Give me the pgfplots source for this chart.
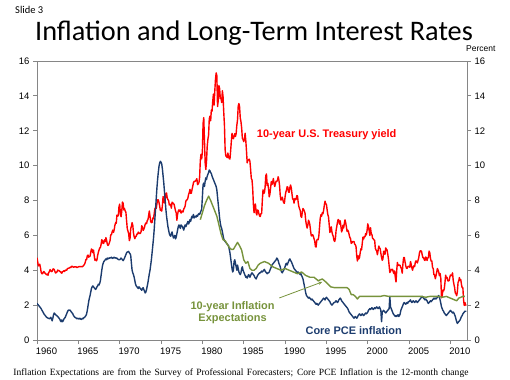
\documentclass[border=0pt]{standalone}
\usepackage{pgfplots}
\pgfplotsset{compat=1.18}
\usepackage{fontspec}
\setmainfont{Liberation Sans}
\newfontfamily\titlefont{Carlito}
\newfontfamily\notefont{Liberation Serif}
\usetikzlibrary{arrows.meta}
\definecolor{tyred}{RGB}{255,0,0}
\definecolor{pceblue}{RGB}{28,60,110}
\definecolor{expgreen}{RGB}{119,147,60}
\definecolor{axisgray}{RGB}{134,134,134}
\newcommand\tickfont{\fontsize{9.5}{11}\selectfont}
\begin{document}
\begin{tikzpicture}
\useasboundingbox (0,0) rectangle (510bp,380bp);
\begin{axis}[
  at={(37bp,40bp)}, anchor=south west, scale only axis,
  width=430bp, height=279bp,
  xmin=1960, xmax=2012, ymin=0, ymax=16,
  axis line style={draw=axisgray, line width=0.8bp},
  xtick={1960,1965,...,2010},
  xticklabels={1960,1965,1970,1975,1980,1985,1990,1995,2000,2005,2010},
  xticklabel style={xshift=9.5bp, font=\tickfont},
  ytick={0,2,...,16},
  yticklabel style={font=\tickfont},
  tick align=outside, major tick length=4bp,
  tick style={draw=axisgray, line width=0.8bp},
  xtick pos=left, ytick pos=left,
  /pgf/number format/assume math mode=true,
  line join=round,
]
% 10-year Treasury yield, monthly Jan 1960 - Dec 2011
\addplot[tyred, line width=1.4bp, mark=none] table[row sep=\\, header=false, x expr=1960+\coordindex/12, y index=0] {
4.72\\4.49\\4.25\\4.28\\4.35\\4.15\\3.90\\3.80\\3.80\\3.89\\3.93\\3.84\\
3.84\\3.78\\3.74\\3.78\\3.71\\3.88\\3.92\\4.04\\3.98\\3.92\\3.94\\4.06\\
4.08\\4.04\\3.93\\3.84\\3.87\\3.91\\4.01\\3.98\\3.98\\3.93\\3.92\\3.86\\
3.83\\3.92\\3.93\\3.97\\3.93\\3.99\\4.02\\4.00\\4.08\\4.11\\4.12\\4.13\\
4.17\\4.15\\4.22\\4.23\\4.20\\4.17\\4.19\\4.19\\4.20\\4.19\\4.15\\4.18\\
4.19\\4.21\\4.21\\4.20\\4.21\\4.21\\4.20\\4.25\\4.29\\4.35\\4.45\\4.62\\
4.61\\4.83\\4.87\\4.75\\4.78\\4.81\\5.02\\5.22\\5.18\\5.01\\5.16\\4.84\\
4.58\\4.63\\4.54\\4.59\\4.85\\5.02\\5.16\\5.28\\5.30\\5.48\\5.75\\5.70\\
5.53\\5.56\\5.74\\5.64\\5.87\\5.72\\5.50\\5.42\\5.46\\5.58\\5.70\\6.03\\
6.04\\6.19\\6.30\\6.17\\6.32\\6.57\\6.72\\6.69\\7.16\\7.10\\7.14\\7.65\\
7.79\\7.24\\7.07\\7.39\\7.91\\7.84\\7.46\\7.53\\7.39\\7.33\\6.84\\6.39\\
6.24\\6.11\\5.70\\5.83\\6.39\\6.52\\6.73\\6.58\\6.14\\5.93\\5.81\\5.93\\
5.95\\6.08\\6.07\\6.19\\6.13\\6.11\\6.11\\6.21\\6.55\\6.48\\6.28\\6.36\\
6.46\\6.64\\6.71\\6.67\\6.85\\6.90\\7.13\\7.40\\7.09\\6.79\\6.73\\6.74\\
6.99\\6.96\\7.21\\7.51\\7.58\\7.54\\7.81\\8.04\\8.04\\7.90\\7.68\\7.43\\
7.50\\7.39\\7.73\\8.23\\8.06\\7.86\\8.06\\8.40\\8.43\\8.14\\8.05\\8.00\\
7.74\\7.79\\7.73\\7.56\\7.90\\7.86\\7.83\\7.77\\7.59\\7.41\\7.29\\6.87\\
7.21\\7.39\\7.46\\7.37\\7.46\\7.28\\7.33\\7.40\\7.34\\7.52\\7.58\\7.69\\
7.96\\8.03\\8.04\\8.15\\8.35\\8.46\\8.64\\8.41\\8.42\\8.64\\8.81\\9.01\\
9.10\\9.10\\9.12\\9.18\\9.25\\8.91\\8.95\\9.03\\9.33\\10.30\\10.65\\10.39\\
10.80\\12.41\\12.75\\11.47\\10.18\\9.78\\10.25\\11.10\\11.51\\11.75\\12.68\\12.84\\
12.57\\13.19\\13.12\\13.68\\14.10\\13.47\\14.28\\14.94\\15.32\\15.15\\13.39\\13.72\\
14.59\\14.43\\13.86\\13.87\\13.62\\14.30\\13.95\\13.06\\12.34\\10.91\\10.55\\10.54\\
10.46\\10.72\\10.51\\10.40\\10.38\\10.85\\11.38\\11.85\\11.65\\11.54\\11.69\\11.83\\
11.67\\11.84\\12.32\\12.63\\13.41\\13.56\\13.36\\12.72\\12.52\\12.16\\11.57\\11.50\\
11.38\\11.51\\11.86\\11.43\\10.85\\10.16\\10.31\\10.33\\10.37\\10.24\\9.78\\9.26\\
9.19\\8.70\\7.78\\7.30\\7.71\\7.80\\7.30\\7.17\\7.45\\7.43\\7.25\\7.11\\
7.08\\7.25\\7.25\\8.02\\8.61\\8.40\\8.45\\8.76\\9.42\\9.52\\8.86\\8.99\\
8.67\\8.21\\8.37\\8.72\\9.09\\8.92\\9.06\\9.26\\8.98\\8.80\\8.96\\9.11\\
9.09\\9.17\\9.36\\9.18\\8.86\\8.28\\8.02\\8.11\\8.19\\8.01\\7.87\\7.84\\
8.21\\8.47\\8.59\\8.79\\8.76\\8.48\\8.47\\8.75\\8.89\\8.72\\8.39\\8.08\\
8.09\\7.85\\8.11\\8.04\\8.07\\8.28\\8.27\\7.90\\7.65\\7.53\\7.42\\7.09\\
7.03\\7.34\\7.54\\7.48\\7.39\\7.26\\6.84\\6.59\\6.42\\6.59\\6.87\\6.77\\
6.60\\6.26\\5.98\\5.97\\6.04\\5.96\\5.81\\5.68\\5.36\\5.33\\5.72\\5.77\\
5.75\\5.97\\6.48\\6.97\\7.18\\7.10\\7.30\\7.24\\7.46\\7.74\\7.96\\7.81\\
7.78\\7.47\\7.20\\7.06\\6.63\\6.17\\6.28\\6.49\\6.20\\6.04\\5.93\\5.71\\
5.65\\5.81\\6.27\\6.51\\6.74\\6.91\\6.87\\6.64\\6.83\\6.53\\6.20\\6.30\\
6.58\\6.42\\6.69\\6.89\\6.71\\6.49\\6.22\\6.30\\6.21\\6.03\\5.88\\5.81\\
5.54\\5.57\\5.65\\5.64\\5.65\\5.50\\5.46\\5.34\\4.81\\4.53\\4.83\\4.65\\
4.72\\5.00\\5.23\\5.18\\5.54\\5.90\\5.79\\5.94\\5.92\\6.11\\6.03\\6.28\\
6.66\\6.52\\6.26\\5.99\\6.44\\6.10\\6.05\\5.83\\5.80\\5.74\\5.72\\5.24\\
5.16\\5.10\\4.89\\5.14\\5.39\\5.28\\5.24\\4.97\\4.73\\4.57\\4.65\\5.09\\
5.04\\4.91\\5.28\\5.21\\5.16\\4.93\\4.65\\4.26\\3.87\\3.94\\4.05\\4.03\\
4.05\\3.90\\3.81\\3.96\\3.57\\3.33\\3.98\\4.45\\4.27\\4.29\\4.30\\4.27\\
4.15\\4.08\\3.83\\4.35\\4.72\\4.73\\4.50\\4.28\\4.13\\4.10\\4.19\\4.23\\
4.22\\4.17\\4.50\\4.34\\4.14\\4.00\\4.18\\4.26\\4.20\\4.46\\4.54\\4.47\\
4.42\\4.57\\4.72\\4.99\\5.11\\5.11\\5.09\\4.88\\4.72\\4.73\\4.60\\4.56\\
4.76\\4.72\\4.56\\4.69\\4.75\\5.10\\5.00\\4.67\\4.52\\4.53\\4.15\\4.10\\
3.74\\3.74\\3.51\\3.68\\3.88\\4.10\\4.01\\3.89\\3.69\\3.81\\3.53\\2.42\\
2.52\\2.87\\2.82\\2.93\\3.29\\3.72\\3.56\\3.59\\3.40\\3.39\\3.40\\3.59\\
3.73\\3.69\\3.73\\3.85\\3.42\\3.20\\3.01\\2.70\\2.65\\2.54\\2.76\\3.29\\
3.39\\3.58\\3.41\\3.46\\3.17\\3.00\\3.00\\2.30\\1.98\\2.15\\2.01\\1.98\\
};
% Core PCE inflation, 12-month change, monthly Jan 1960 - Dec 2011
\addplot[pceblue, line width=1.4bp, mark=none] table[row sep=\\, header=false, x expr=1960+\coordindex/12, y index=0] {
2.10\\2.05\\2.00\\1.95\\1.90\\1.85\\1.80\\1.72\\1.65\\1.58\\1.50\\1.45\\
1.40\\1.35\\1.30\\1.28\\1.25\\1.24\\1.22\\1.25\\1.30\\1.20\\1.10\\1.25\\
1.45\\1.55\\1.50\\1.45\\1.42\\1.38\\1.35\\1.30\\1.25\\1.20\\1.10\\1.05\\
1.15\\1.05\\1.10\\1.20\\1.25\\1.30\\1.40\\1.50\\1.60\\1.68\\1.72\\1.70\\
1.72\\1.65\\1.60\\1.55\\1.50\\1.40\\1.35\\1.30\\1.28\\1.25\\1.22\\1.25\\
1.22\\1.20\\1.25\\1.22\\1.18\\1.20\\1.25\\1.22\\1.28\\1.30\\1.35\\1.40\\
1.50\\1.70\\1.95\\2.20\\2.40\\2.55\\2.75\\2.95\\3.05\\3.10\\3.05\\3.00\\
2.95\\2.90\\2.95\\3.05\\3.10\\3.20\\3.15\\3.25\\3.40\\3.70\\4.00\\4.25\\
4.40\\4.50\\4.55\\4.60\\4.65\\4.60\\4.70\\4.65\\4.70\\4.68\\4.72\\4.70\\
4.75\\4.70\\4.68\\4.72\\4.75\\4.70\\4.72\\4.68\\4.70\\4.65\\4.62\\4.60\\
4.60\\4.65\\4.70\\4.65\\4.60\\4.55\\4.62\\4.70\\4.80\\4.90\\5.00\\5.05\\
5.05\\5.08\\5.00\\4.95\\4.85\\4.40\\4.00\\3.85\\3.75\\3.60\\3.40\\3.20\\
3.10\\3.05\\3.00\\2.95\\3.05\\3.00\\2.95\\2.90\\2.85\\2.95\\3.00\\2.90\\
2.80\\2.70\\2.75\\2.90\\3.10\\3.30\\3.55\\3.80\\4.00\\4.30\\4.60\\5.00\\
5.40\\5.80\\6.30\\6.90\\7.50\\8.10\\8.70\\9.20\\9.60\\9.95\\10.15\\10.25\\
10.20\\10.10\\9.80\\9.40\\9.00\\8.50\\8.00\\7.50\\7.10\\6.80\\6.50\\6.30\\
6.10\\6.00\\5.95\\6.10\\6.20\\6.00\\5.85\\5.90\\6.00\\5.80\\5.90\\6.10\\
6.30\\6.50\\6.60\\6.50\\6.40\\6.60\\6.55\\6.50\\6.40\\6.30\\6.50\\6.60\\
6.50\\6.60\\6.70\\6.80\\6.65\\6.75\\6.90\\6.80\\7.00\\7.10\\7.00\\7.20\\
7.00\\7.05\\7.10\\7.05\\7.15\\7.10\\7.20\\7.25\\7.20\\7.30\\7.40\\7.50\\
8.20\\8.90\\9.00\\8.80\\9.10\\9.30\\9.20\\9.40\\9.50\\9.60\\9.75\\9.70\\
9.60\\9.55\\9.40\\9.30\\9.20\\9.10\\9.00\\8.90\\8.80\\8.60\\8.20\\7.80\\
7.40\\7.00\\6.70\\6.50\\6.40\\6.20\\6.00\\5.80\\5.70\\5.65\\5.60\\5.55\\
5.50\\5.45\\5.40\\5.20\\5.00\\4.70\\4.40\\4.10\\3.90\\4.00\\4.50\\4.60\\
4.40\\4.20\\4.00\\4.30\\4.10\\3.90\\3.80\\3.75\\3.85\\4.10\\4.20\\4.00\\
3.90\\3.80\\3.70\\3.60\\3.65\\3.55\\3.65\\3.75\\3.70\\3.60\\3.70\\3.80\\
3.85\\3.80\\3.75\\3.70\\3.60\\3.55\\3.50\\3.60\\3.70\\3.75\\3.80\\3.85\\
3.85\\3.90\\3.95\\3.90\\3.95\\4.00\\4.05\\3.95\\3.90\\3.85\\3.80\\3.85\\
3.85\\3.90\\4.00\\4.10\\4.20\\4.30\\4.35\\4.40\\4.45\\4.50\\4.55\\4.60\\
4.70\\4.65\\4.55\\4.40\\4.30\\4.20\\4.00\\3.90\\3.85\\3.95\\4.00\\4.10\\
4.20\\4.35\\4.40\\4.30\\4.40\\4.50\\4.60\\4.65\\4.55\\4.50\\4.40\\4.30\\
4.20\\4.10\\4.05\\4.00\\3.95\\3.90\\3.85\\3.90\\3.85\\3.80\\3.75\\3.80\\
3.70\\3.60\\3.50\\3.30\\3.10\\2.90\\2.70\\2.55\\2.50\\2.45\\2.40\\2.45\\
2.40\\2.35\\2.30\\2.35\\2.30\\2.25\\2.20\\2.15\\2.10\\2.05\\2.10\\2.05\\
2.00\\2.05\\2.10\\2.15\\2.20\\2.25\\2.30\\2.35\\2.40\\2.35\\2.30\\2.40\\
2.45\\2.40\\2.35\\2.30\\2.25\\2.20\\2.10\\2.05\\2.00\\2.05\\2.10\\2.15\\
2.15\\2.20\\2.25\\2.20\\2.15\\2.20\\2.30\\2.35\\2.40\\2.35\\2.25\\2.20\\
2.15\\2.10\\2.05\\2.00\\1.95\\1.90\\1.85\\1.80\\1.70\\1.60\\1.55\\1.50\\
1.45\\1.40\\1.35\\1.30\\1.25\\1.30\\1.35\\1.30\\1.25\\1.30\\1.40\\1.45\\
1.50\\1.45\\1.40\\1.45\\1.50\\1.45\\1.40\\1.45\\1.50\\1.55\\1.50\\1.55\\
1.60\\1.70\\1.75\\1.80\\1.75\\1.80\\1.85\\1.80\\1.75\\1.80\\1.85\\1.80\\
1.85\\1.90\\1.85\\1.80\\1.85\\1.90\\1.80\\1.70\\1.05\\1.60\\1.65\\1.70\\
1.65\\1.60\\1.55\\1.60\\1.65\\1.70\\1.75\\1.80\\2.50\\1.90\\1.80\\1.70\\
1.60\\1.50\\1.45\\1.40\\1.35\\1.40\\1.35\\1.40\\1.45\\1.35\\1.40\\1.50\\
1.70\\1.80\\1.90\\2.00\\2.10\\2.15\\2.10\\2.05\\2.10\\2.15\\2.10\\2.20\\
2.20\\2.25\\2.30\\2.20\\2.15\\2.20\\2.25\\2.20\\2.15\\2.20\\2.25\\2.20\\
2.15\\2.20\\2.25\\2.30\\2.35\\2.40\\2.45\\2.50\\2.45\\2.40\\2.35\\2.30\\
2.35\\2.30\\2.25\\2.15\\2.10\\2.15\\2.20\\2.25\\2.20\\2.25\\2.30\\2.35\\
2.40\\2.35\\2.40\\2.35\\2.40\\2.45\\2.50\\2.55\\2.45\\2.30\\2.10\\1.90\\
1.80\\1.70\\1.65\\1.55\\1.50\\1.45\\1.40\\1.45\\1.50\\1.55\\1.60\\1.65\\
1.70\\1.65\\1.60\\1.55\\1.60\\1.55\\1.45\\1.35\\1.20\\1.05\\0.95\\1.00\\
1.05\\1.10\\1.15\\1.25\\1.35\\1.40\\1.50\\1.55\\1.60\\1.65\\1.65\\1.65\\
};
% 10-year inflation expectations (SPF), quarterly
\addplot[expgreen, line width=1.4bp, mark=none] coordinates {
(1979.75,6.9) (1980.0,7.3) (1980.25,7.7) (1980.5,8.0) (1980.75,8.25)
(1981.0,8.0) (1981.25,7.7) (1981.5,7.4) (1981.75,7.1) (1982.0,6.6)
(1982.25,6.1) (1982.5,5.75) (1982.75,5.7) (1983.0,5.5) (1983.25,5.3)
(1983.5,5.2) (1983.75,5.2) (1984.0,5.4) (1984.25,5.6) (1984.5,5.4)
(1984.75,5.15) (1985.0,4.6) (1985.25,4.4) (1985.5,4.5) (1985.75,4.1)
(1986.0,4.0) (1986.25,4.0) (1986.5,4.1) (1986.75,4.3) (1987.0,4.4)
(1987.5,4.5) (1988.0,4.4) (1988.5,4.2) (1989.0,4.1) (1989.5,4.0)
(1990.0,4.1) (1990.5,4.0) (1991.0,3.9) (1991.5,3.8) (1992.0,3.9)
(1992.5,3.7) (1993.0,3.6) (1993.5,3.6) (1994.0,3.4) (1994.5,3.5)
(1995.0,3.3) (1995.5,3.05) (1996.0,3.0) (1996.5,3.0) (1997.0,3.0)
(1997.5,3.0) (1997.75,2.9) (1998.0,2.6) (1998.25,2.6) (1998.5,2.5)
(1998.75,2.35) (1999.0,2.5) (1999.5,2.5) (2000.0,2.5) (2000.5,2.5)
(2001.0,2.5) (2001.5,2.5) (2002.0,2.55) (2002.5,2.5) (2003.0,2.5)
(2003.5,2.5) (2004.0,2.5) (2004.5,2.5) (2005.0,2.5) (2005.5,2.5)
(2006.0,2.5) (2006.5,2.5) (2007.0,2.45) (2007.5,2.5) (2008.0,2.5)
(2008.5,2.5) (2009.0,2.45) (2009.5,2.5) (2010.0,2.4) (2010.5,2.3)
(2010.75,2.25) (2011.0,2.4) (2011.5,2.5) (2011.75,2.5)
};
\draw[expgreen, line width=0.8bp, -{Stealth[length=4bp,width=3.5bp]}] (axis cs:1989.3,2.41) -- (axis cs:1994.5,3.33);
\end{axis}
\begin{axis}[
  at={(37bp,40bp)}, anchor=south west, scale only axis,
  width=430bp, height=279bp,
  xmin=1960, xmax=2012, ymin=0, ymax=16,
  axis x line=none, axis y line*=right,
  axis line style={draw=axisgray, line width=0.8bp},
  ytick={0,2,...,16},
  yticklabel style={font=\tickfont},
  tick align=outside, major tick length=4bp,
  tick style={draw=axisgray, line width=0.8bp},
  /pgf/number format/assume math mode=true,
]
\end{axis}
\node[anchor=base west, inner sep=0pt, font=\titlefont\fontsize{10.5}{12}\selectfont] at (15bp,366bp) {Slide 3};
\node[anchor=base, inner sep=0pt, font=\titlefont\fontsize{28.4}{33}\selectfont] at (254bp,339.5bp) {Inflation and Long-Term Interest Rates};
\node[anchor=base west, inner sep=0pt, font=\fontsize{8.5}{10}\selectfont] at (466bp,328.3bp) {Percent};
\node[anchor=base, inner sep=0pt, text=tyred, font=\bfseries\fontsize{11}{13}\selectfont] at (326.7bp,242.7bp) {10-year U.S. Treasury yield};
\node[anchor=base, inner sep=0pt, text=expgreen, font=\bfseries\fontsize{11}{13}\selectfont] at (232.6bp,70bp) {10-year Inflation};
\node[anchor=base, inner sep=0pt, text=expgreen, font=\bfseries\fontsize{11}{13}\selectfont] at (232.6bp,58.3bp) {Expectations};
\node[anchor=base, inner sep=0pt, text=pceblue, font=\bfseries\fontsize{11}{13}\selectfont] at (353.7bp,45bp) {Core PCE inflation};
\node[anchor=base west, inner sep=0pt, font=\notefont\fontsize{9.6}{11}\selectfont] at (13.3bp,4.5bp) {\makebox[455bp][s]{Inflation Expectations are from the Survey of Professional Forecasters; Core PCE Inflation is the 12-month change}};
\end{tikzpicture}
\end{document}
